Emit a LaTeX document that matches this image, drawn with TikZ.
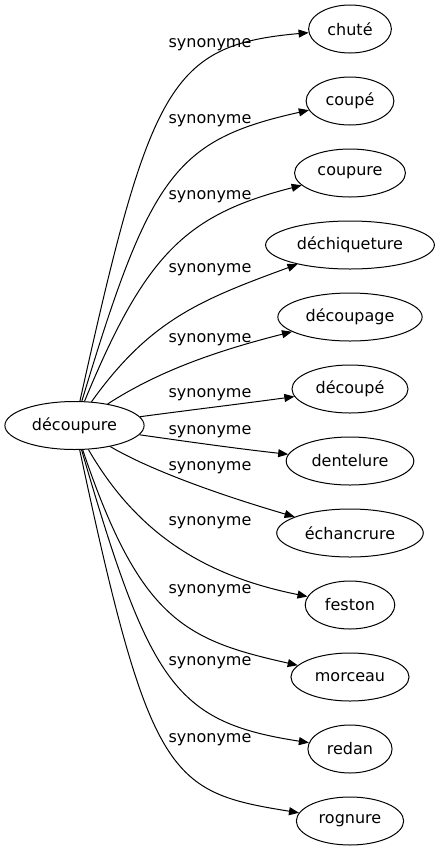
\documentclass[tikz,border=0pt]{standalone}
\usepackage{fontspec}
\setmainfont{DejaVu Sans}
\usetikzlibrary{shapes.geometric,arrows.meta}
\tikzset{every picture/.style={line width=0.75pt}}

\begin{document}
\begin{tikzpicture}[x=0.75pt,y=0.75pt,yscale=-1,xscale=1,
  mot/.style={draw, ellipse, fill=white, inner xsep=5pt, inner ysep=1pt, minimum height=36pt, font=\fontsize{12}{14}\selectfont},
  lien/.style={-{Triangle[length=7.5pt,width=6pt]}},
  etiquette/.style={inner sep=0.75pt, font=\fontsize{12}{14}\selectfont}]
%set diagram left start at 0, and has height of 851
\useasboundingbox (0,0) rectangle (438,851);

%Shape: Ellipse [id:decoupure]
\node [mot] (decoupure) at (74.5,425.5) {découpure};
%Shape: Ellipse [id:chute]
\node [mot] (chute) at (350,29) {chuté};
%Shape: Ellipse [id:coupe]
\node [mot] (coupe) at (350,101) {coupé};
%Shape: Ellipse [id:coupure]
\node [mot] (coupure) at (350,173) {coupure};
%Shape: Ellipse [id:dechiqueture]
\node [mot] (dechiqueture) at (350,245) {déchiqueture};
%Shape: Ellipse [id:decoupage]
\node [mot] (decoupage) at (350,317) {découpage};
%Shape: Ellipse [id:decoupe]
\node [mot] (decoupe) at (350,389) {découpé};
%Shape: Ellipse [id:dentelure]
\node [mot] (dentelure) at (350,461) {dentelure};
%Shape: Ellipse [id:echancrure]
\node [mot] (echancrure) at (350,533) {échancrure};
%Shape: Ellipse [id:feston]
\node [mot] (feston) at (350,605) {feston};
%Shape: Ellipse [id:morceau]
\node [mot] (morceau) at (350,677) {morceau};
%Shape: Ellipse [id:redan]
\node [mot] (redan) at (350,749) {redan};
%Shape: Ellipse [id:rognure]
\node [mot] (rognure) at (350,821) {rognure};

%Curve Lines [id:lien1]
\draw [lien] (decoupure) .. controls (150,85) and (170,45) .. (chute);
%Curve Lines [id:lien2]
\draw [lien] (decoupure) .. controls (150,175) and (175,140) .. (coupe);
%Curve Lines [id:lien3]
\draw [lien] (decoupure) .. controls (145,255) and (185,215) .. (coupure);
%Curve Lines [id:lien4]
\draw [lien] (decoupure) .. controls (150,320) and (200,300) .. (dechiqueture);
%Curve Lines [id:lien5]
\draw [lien] (decoupure) .. controls (160,370) and (220,350) .. (decoupage);
%Curve Lines [id:lien6]
\draw [lien] (decoupure) .. controls (190,410) and (240,404) .. (decoupe);
%Curve Lines [id:lien7]
\draw [lien] (decoupure) .. controls (190,442) and (240,449) .. (dentelure);
%Curve Lines [id:lien8]
\draw [lien] (decoupure) .. controls (150,470) and (220,495) .. (echancrure);
%Curve Lines [id:lien9]
\draw [lien] (decoupure) .. controls (135,530) and (200,575) .. (feston);
%Curve Lines [id:lien10]
\draw [lien] (decoupure) .. controls (140,620) and (185,640) .. (morceau);
%Curve Lines [id:lien11]
\draw [lien] (decoupure) .. controls (150,685) and (175,722) .. (redan);
%Curve Lines [id:lien12]
\draw [lien] (decoupure) .. controls (150,780) and (170,792) .. (rognure);

% Text Node
\node [etiquette] (syn1) at (210,45) {synonyme};
% Text Node
\node [etiquette] (syn2) at (210,121) {synonyme};
% Text Node
\node [etiquette] (syn3) at (210,197) {synonyme};
% Text Node
\node [etiquette] (syn4) at (210,270) {synonyme};
% Text Node
\node [etiquette] (syn5) at (210,340) {synonyme};
% Text Node
\node [etiquette] (syn6) at (210,395) {synonyme};
% Text Node
\node [etiquette] (syn7) at (210,431.5) {synonyme};
% Text Node
\node [etiquette] (syn8) at (210,468) {synonyme};
% Text Node
\node [etiquette] (syn9) at (210,523) {synonyme};
% Text Node
\node [etiquette] (syn10) at (210,591) {synonyme};
% Text Node
\node [etiquette] (syn11) at (210,663) {synonyme};
% Text Node
\node [etiquette] (syn12) at (210,740) {synonyme};

\end{tikzpicture}
\end{document}
